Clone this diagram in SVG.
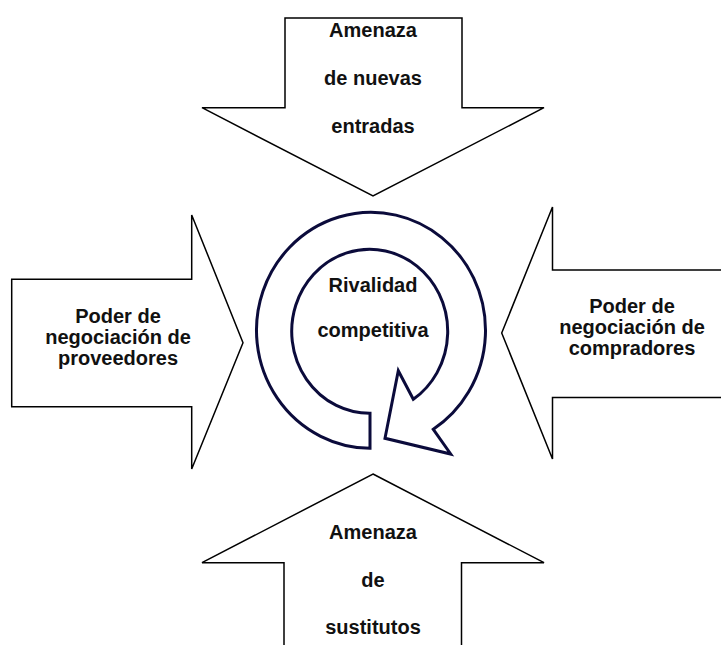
<svg xmlns="http://www.w3.org/2000/svg" width="721" height="645" viewBox="0 0 721 645">
<style>
.arr{fill:#fff;stroke:#000;stroke-width:1.5;stroke-linejoin:miter}
.cyc{fill:#fff;stroke:#0b0b3b;stroke-width:3;stroke-linejoin:miter}
.t{font-family:"Liberation Sans",Arial,sans-serif;font-weight:bold;font-size:20px;fill:#111;text-anchor:middle}
</style>
<rect width="721" height="645" fill="#fff"/>
<g id="top-arrow">
<polygon class="arr" points="285,18 462,18 462,107.7 544,107.7 373,196 202,107.7 285,107.7"/>
<text class="t" x="373" y="37">Amenaza</text>
<text class="t" x="373" y="85">de nuevas</text>
<text class="t" x="373" y="133">entradas</text>
</g>
<g id="left-arrow">
<polygon class="arr" points="11.7,279.3 191.7,279.3 191.7,215 243,342.7 191.7,469 191.7,406.7 11.7,406.7"/>
<text class="t" x="118" y="323.3">Poder de</text>
<text class="t" x="118" y="344">negociación de</text>
<text class="t" x="118" y="365">proveedores</text>
</g>
<g id="right-arrow">
<polygon class="arr" points="725,270 552.5,270 552.5,207 501.7,333 552.5,459 552.5,397.5 725,397.5"/>
<text class="t" x="632" y="313.3">Poder de</text>
<text class="t" x="632" y="334">negociación de</text>
<text class="t" x="632" y="355">compradores</text>
</g>
<g id="bottom-arrow">
<polygon class="arr" points="373,474 544,562.7 461.5,562.7 461.5,650 284,650 284,562.7 202,562.7"/>
<text class="t" x="373" y="539.3">Amenaza</text>
<text class="t" x="373" y="586.7">de</text>
<text class="t" x="373" y="634">sustitutos</text>
</g>
<g id="rivalry">
<path class="cyc" d="M370,413.3 L370,448.3 A114.5,118 0 1 1 433.3,429.3 L450.7,454 L385,438.3 L398.3,370.7 L413.3,399.3 A78,82 0 1 0 370,413.3 Z"/>
<text class="t" x="373" y="291.5">Rivalidad</text>
<text class="t" x="373" y="337">competitiva</text>
</g>
<g id="connectors"></g>
</svg>
